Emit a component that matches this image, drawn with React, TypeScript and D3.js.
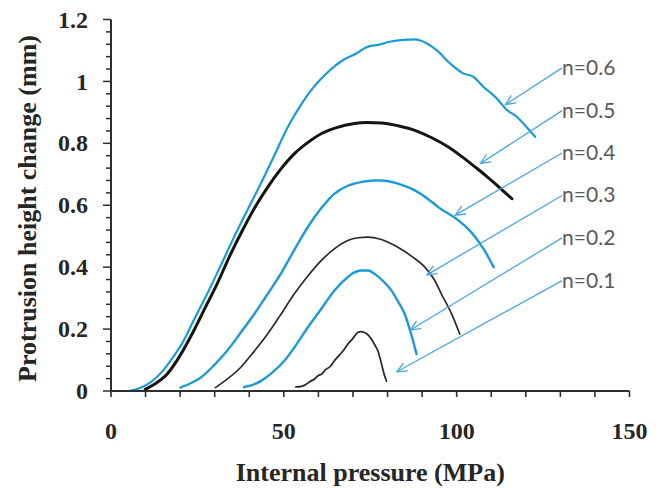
import React from "react";
import * as d3 from "d3";

type P = [number, number];

const n06: P[] = [[5,0],[8,0.008],[11.3,0.027],[15,0.065],[18,0.11],[21,0.162],[24,0.23],[27.8,0.313],[31.5,0.4],[35.6,0.497],[39.5,0.585],[43.3,0.669],[47,0.755],[51.5,0.86],[55,0.925],[57.6,0.967],[60.5,1.005],[63.4,1.037],[67.2,1.069],[71.1,1.091],[73.5,1.108],[74.9,1.114],[77.3,1.118],[80.7,1.128],[84.6,1.134],[87.9,1.136],[89.5,1.132],[91.3,1.123],[94.2,1.101],[98.1,1.058],[101.9,1.026],[104.8,1.015],[107.7,0.983],[111.6,0.945],[114.5,0.908],[117.4,0.886],[120,0.855],[122.7,0.821]];
const n05: P[] = [[9.9,0.005],[13,0.025],[16.2,0.054],[20,0.115],[23.9,0.194],[27.3,0.27],[30.7,0.346],[34.5,0.44],[38.5,0.529],[42,0.6],[45.3,0.658],[49,0.715],[53,0.766],[57,0.803],[60.8,0.831],[65,0.85],[70.4,0.864],[74,0.867],[78.2,0.866],[83,0.857],[87.9,0.842],[92.8,0.818],[97.6,0.788],[101.5,0.757],[105.4,0.723],[108.5,0.695],[111.2,0.669],[113.6,0.645],[116,0.621]];
const n04: P[] = [[20.1,0.011],[23,0.025],[25.9,0.043],[29.8,0.083],[33.6,0.13],[37.5,0.188],[41.4,0.248],[45.3,0.313],[49.1,0.378],[53,0.455],[56.9,0.529],[60.8,0.59],[64.6,0.637],[68.5,0.663],[72.4,0.675],[76,0.68],[78.2,0.68],[83,0.67],[87.9,0.648],[91.5,0.622],[94.7,0.594],[100.5,0.551],[103,0.527],[105.4,0.497],[108,0.455],[110.7,0.4]];
const n03: P[] = [[30.2,0.011],[33.8,0.04],[37.5,0.076],[41.4,0.128],[45.3,0.184],[49,0.245],[53,0.313],[57,0.372],[60.8,0.421],[64.6,0.459],[68.5,0.486],[71.5,0.495],[74.3,0.497],[78,0.49],[83,0.464],[87,0.435],[90.8,0.4],[93.5,0.36],[95.6,0.313],[98.5,0.25],[100.9,0.184]];
const n02: P[] = [[38.5,0.013],[41,0.02],[43.3,0.032],[46.7,0.06],[50.1,0.097],[53.5,0.148],[56.9,0.205],[60.8,0.265],[64.6,0.324],[67.5,0.358],[70.4,0.383],[72.5,0.389],[74.3,0.389],[77,0.372],[79,0.352],[81.1,0.325],[83,0.29],[85,0.248],[86.8,0.185],[88.4,0.119]];
const n01: P[] = [[53.5,0.013],[55,0.015],[56.5,0.022],[57.5,0.03],[58.8,0.038],[60,0.05],[61,0.055],[62,0.068],[63.5,0.08],[64.6,0.097],[66,0.115],[67.5,0.135],[68.5,0.151],[70,0.17],[71.4,0.189],[72.3,0.192],[73.3,0.189],[74.5,0.18],[75.5,0.165],[76.5,0.145],[77.2,0.13],[78.2,0.09],[79,0.055],[79.7,0.032]];

const seriesNames = ["n=0.6", "n=0.5", "n=0.4", "n=0.3", "n=0.2", "n=0.1"];
const seriesData = [n06, n05, n04, n03, n02, n01];
const seriesColors = ["#1b9ad8", "#141414", "#1b9ad8", "#2a2a2a", "#1b9ad8", "#2a2a2a"];
const seriesWidths = [2.2, 3, 2.4, 1.7, 2.4, 1.8];
// arrow tip (data units) per label
const arrowTips: P[] = [[114.1,0.925],[106.9,0.735],[99.6,0.568],[91.4,0.375],[86.6,0.197],[82.7,0.062]];
// label anchor (data units): left of text, baseline
const labelX = 130.5;
const labelY = [1.021, 0.883, 0.746, 0.609, 0.472, 0.334];

const xTickLabels = [0, 50, 100, 150];
const yTickLabels = [0, 0.2, 0.4, 0.6, 0.8, 1, 1.2];

export default function App() {
  const W = 661, H = 488;
  const x = d3.scaleLinear().domain([0, 150]).range([111, 629.5]);
  const y = d3.scaleLinear().domain([0, 1.2]).range([391, 19.5]);
  const line = d3.line<P>().x(d => x(d[0])).y(d => y(d[1])).curve(d3.curveMonotoneX);
  const xMinor = d3.range(0, 151, 10);
  const yMinor = d3.range(0, 31).map(i => i * 0.04);
  const axisColor = "#2e2e2e";
  const serif = "'Liberation Serif', 'Times New Roman', serif";
  const textColor = "#262626";
  const arrowColor = "#4aa6e0";

  return (
    <svg width={W} height={H} style={{ position: "absolute", left: 0, top: 0, background: "#fff" }}>
      <defs>
        <marker id="ah" viewBox="-12 -6 14 12" refX={0} refY={0} markerWidth={14} markerHeight={12}
          markerUnits="userSpaceOnUse" orient="auto">
          <path d="M-10,-4.5 L0,0 L-10,4.5" fill="none" stroke={arrowColor} strokeWidth={1.3} />
        </marker>
      </defs>
      {seriesData.map((d, i) => (
        <path key={i} d={line(d) || ""} fill="none" stroke={seriesColors[i]} strokeWidth={seriesWidths[i]}
          strokeLinejoin="round" strokeLinecap="round" />
      ))}
      <line x1={x(0)} x2={x(150)} y1={y(0)} y2={y(0)} stroke={axisColor} strokeWidth={2} />
      <line x1={x(0)} x2={x(0)} y1={y(0)} y2={y(1.2)} stroke={axisColor} strokeWidth={2} />
      {xMinor.map(v => (
        <line key={"xt" + v} x1={x(v)} x2={x(v)} y1={y(0)} y2={y(0) + 6} stroke={axisColor} strokeWidth={1.6} />
      ))}
      {yMinor.map((v, i) => (
        <line key={"yt" + i} x1={x(0) - (i % 5 === 0 ? 8 : 5)} x2={x(0)} y1={y(v)} y2={y(v)} stroke={axisColor} strokeWidth={1.5} />
      ))}
      {xTickLabels.map(v => (
        <text key={"xl" + v} x={x(v)} y={439} textAnchor="middle" fontFamily={serif} fontWeight="bold"
          fontSize={24} fill={textColor}>{v}</text>
      ))}
      {yTickLabels.map(v => (
        <text key={"yl" + v} x={88} y={y(v)} dy="0.34em" textAnchor="end" fontFamily={serif} fontWeight="bold"
          fontSize={24} fill={textColor}>{String(v)}</text>
      ))}
      <text x={(x(0) + x(150)) / 2} y={481} textAnchor="middle" fontFamily={serif} fontWeight="bold"
        fontSize={26} fill={textColor}>Internal pressure (MPa)</text>
      <text transform={`translate(36,${208.5}) rotate(-90)`} textAnchor="middle" fontFamily={serif} fontWeight="bold"
        fontSize={26} fill={textColor}>Protrusion height change (mm)</text>
      {seriesNames.map((name, i) => (
        <g key={"ann" + i}>
          <line x1={x(labelX)} y1={y(labelY[i]) - 7} x2={x(arrowTips[i][0])} y2={y(arrowTips[i][1])}
            stroke={arrowColor} strokeWidth={1.3} markerEnd="url(#ah)" />
          <text x={x(labelX)} y={y(labelY[i])} fontFamily="Lato, 'Open Sans', sans-serif" fontSize={21}
            fill="#595959">{name}</text>
        </g>
      ))}
    </svg>
  );
}
